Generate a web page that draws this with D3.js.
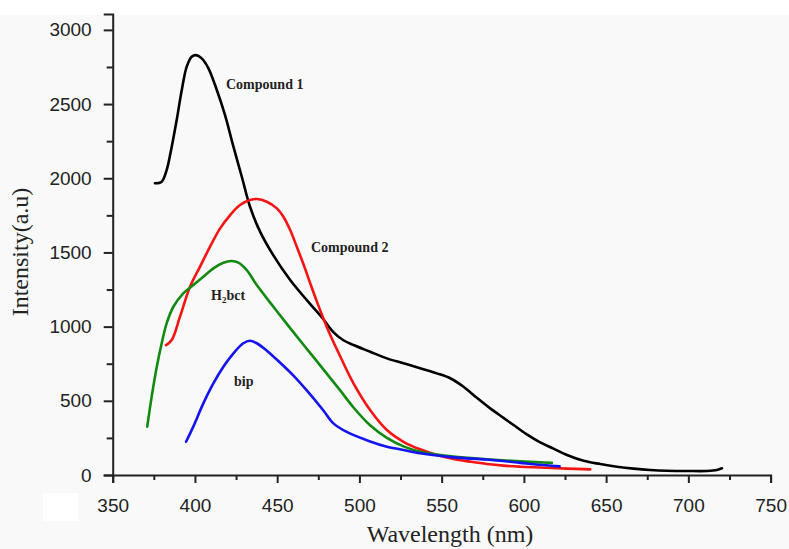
<!DOCTYPE html>
<html>
<head>
<meta charset="utf-8">
<script src="https://cdn.jsdelivr.net/npm/d3@7"></script>
<style>
  body { margin: 0; background: #ffffff; }
  .tick text { font-family: "Liberation Sans", Arial, sans-serif; font-size: 19px; fill: #222; }
  .axis-title { font-family: "Liberation Serif", "Times New Roman", serif; font-size: 24px; fill: #222; }
  .curve-label { font-family: "Liberation Serif", "Times New Roman", serif; font-size: 14px; font-weight: bold; fill: #222; }
</style>
</head>
<body>
<div id="chart"></div>
<script>
// values (wavelength nm, intensity a.u.)
var compound1 = [
  [375.7, 1966], [379.8, 1977], [382.8, 2055], [385.9, 2213], [388.9, 2392],
  [392, 2595], [395, 2752], [398, 2819], [400.7, 2830], [404.1, 2808],
  [408.2, 2741], [413.3, 2595], [418.3, 2426], [423.4, 2213], [428.5, 2010],
  [433.5, 1808], [439.6, 1640], [447.7, 1480], [457.9, 1314], [468, 1179],
  [478.1, 1050], [484, 965], [490, 910], [496.4, 876], [506.5, 831],
  [516.7, 786], [526.8, 753], [536.9, 719], [547.1, 685], [555.2, 652],
  [563.3, 595], [571.4, 520], [579.5, 449], [587.6, 385], [593.7, 337],
  [601.8, 274], [609.9, 220], [618, 178], [626.2, 135], [636.3, 96],
  [646.4, 74], [656.6, 56], [666.7, 43], [676.8, 34], [687, 29],
  [699.2, 27], [711.3, 27], [717.4, 34], [720.4, 45]
];
var compound2 = [
  [382.4, 876], [385.9, 910], [390.9, 1067], [397, 1269], [403.1, 1404],
  [409.2, 1539], [415.3, 1662], [421.4, 1752], [427.4, 1820], [433.5, 1853],
  [437.6, 1860], [443.7, 1842], [449.8, 1797], [453.8, 1741], [457.9, 1651],
  [461.9, 1539], [466, 1420], [470, 1295], [474.1, 1170], [478.1, 1055],
  [482.2, 945], [488.3, 800], [496.4, 618], [506.5, 438], [516.7, 303],
  [526.8, 224], [536.9, 173], [547.1, 135], [557.2, 108], [567.3, 90],
  [577.5, 74], [587.6, 63], [597.8, 56], [605.9, 52], [626.2, 43], [640.3, 38]
];
var h2bct = [
  [371, 326], [373.7, 528], [376.8, 730], [379.8, 888], [382.8, 1022],
  [386.9, 1134], [392.9, 1224], [399, 1280], [405.1, 1336], [411.2, 1393],
  [417.3, 1431], [422.4, 1442], [426.4, 1431], [431.5, 1381], [437.6, 1280],
  [447.7, 1134], [457.9, 990], [468, 850], [478.1, 712], [488.3, 570],
  [496.4, 455], [506.5, 335], [516.7, 250], [526.8, 193], [536.9, 157],
  [557.2, 124], [577.5, 106], [597.8, 92], [610, 85], [617, 82]
];
var bip = [
  [394.6, 224], [399, 326], [405.1, 483], [411.2, 618], [417.3, 730],
  [423.4, 820], [429.4, 888], [433.5, 905], [437.6, 888], [443.7, 838],
  [451.8, 757], [459.9, 670], [468, 570], [478.1, 435], [484.2, 348],
  [492.3, 290], [506.5, 226], [516.7, 191], [526.8, 169], [536.9, 146],
  [557.2, 119], [577.5, 104], [597.8, 82], [606, 72], [621.7, 58]
];

var seriesNames = ["Compound 1", "Compound 2", "H2bct", "bip"];
var seriesColors = ["#000000", "#f51414", "#128a12", "#1414f0"];
var allSeries = [compound1, compound2, h2bct, bip];

var xMajor = [350, 400, 450, 500, 550, 600, 650, 700, 750];
var xMinor = [375, 425, 475, 525, 575, 625, 675, 725];
var yMajor = [0, 500, 1000, 1500, 2000, 2500, 3000];
var yMinor = [250, 750, 1250, 1750, 2250, 2750];

var svgWidth = 789;
var svgHeight = 549;

var svg = d3.select("#chart")
  .append("svg")
  .attr("width", svgWidth)
  .attr("height", svgHeight);

// grey page background below the thin white strip
svg.append("rect")
  .attr("x", 0).attr("y", 15)
  .attr("width", svgWidth).attr("height", svgHeight - 15)
  .attr("fill", "#f9f9f9");
svg.append("rect")
  .attr("x", 43).attr("y", 493)
  .attr("width", 35).attr("height", 28)
  .attr("fill", "#ffffff");

var xScale = d3.scaleLinear()
  .domain([350, 750])
  .range([112.7, 770.6]);

var yScale = d3.scaleLinear()
  .domain([0, 3107])
  .range([475, 14]);

// axes
svg.append("g")
  .attr("transform", "translate(0,475)")
  .call(d3.axisBottom(xScale).tickValues(xMajor).tickSize(8).tickPadding(16).tickFormat(d3.format("d")));
svg.append("g")
  .attr("transform", "translate(0,475)")
  .call(d3.axisBottom(xScale).tickValues(xMinor).tickSize(5).tickFormat(""))
  .call(g => g.select(".domain").remove());

svg.append("g")
  .attr("transform", "translate(112.7,0)")
  .call(d3.axisLeft(yScale).tickValues(yMajor).tickSize(9).tickPadding(12).tickFormat(d3.format("d")));
svg.append("g")
  .attr("transform", "translate(112.7,0)")
  .call(d3.axisLeft(yScale).tickValues(yMinor).tickSize(6).tickFormat(""))
  .call(g => g.select(".domain").remove());

svg.selectAll(".domain, .tick line")
  .attr("stroke", "#222")
  .attr("stroke-width", 2);
svg.selectAll(".tick text").attr("font-size", null).attr("font-family", null);

// curves
var line = d3.line()
  .x(d => xScale(d[0]))
  .y(d => yScale(d[1]))
  .curve(d3.curveCatmullRom.alpha(0.5));

svg.selectAll(".curve")
  .data(allSeries)
  .enter()
  .append("path")
  .attr("class", "curve")
  .attr("d", d => line(d))
  .attr("fill", "none")
  .attr("stroke", (d, i) => seriesColors[i])
  .attr("stroke-width", 2.6)
  .attr("stroke-linejoin", "round")
  .attr("stroke-linecap", "round");

// curve labels
svg.append("text").attr("class", "curve-label")
  .attr("x", 226).attr("y", 89).text("Compound 1");
svg.append("text").attr("class", "curve-label")
  .attr("x", 311).attr("y", 252).text("Compound 2");
var hLabel = svg.append("text").attr("class", "curve-label")
  .attr("x", 211).attr("y", 300);
hLabel.append("tspan").text("H");
hLabel.append("tspan").attr("font-size", "9px").attr("dy", 3).text("2");
hLabel.append("tspan").attr("dy", -3).text("bct");
svg.append("text").attr("class", "curve-label")
  .attr("x", 234).attr("y", 386).text("bip");

// axis titles
svg.append("text")
  .attr("class", "axis-title")
  .attr("x", 450)
  .attr("y", 542)
  .attr("text-anchor", "middle")
  .text("Wavelength (nm)");

svg.append("text")
  .attr("class", "axis-title")
  .attr("transform", "translate(28,252) rotate(-90)")
  .attr("text-anchor", "middle")
  .text("Intensity(a.u)");
</script>
</body>
</html>
